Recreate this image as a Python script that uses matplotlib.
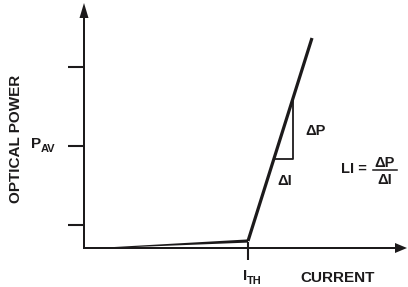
import numpy as np
import matplotlib.pyplot as plt

plt.rcParams['font.family'] = ['Liberation Sans', 'DejaVu Sans']
plt.rcParams['font.weight'] = 'bold'

# L-I curve (x = current, y = optical power), drawing units
current = [18, 164, 228]
power = [0, 7, 210]
i_th = 164
tick_levels = [23, 102, 181]
p_av = 102
# slope triangle
dp_levels = [89, 148]
dp_x = 209

ink = '#1c1a1b'

fig = plt.figure(figsize=(4.08, 2.87), dpi=100)
ax = fig.add_axes([0, 0, 1, 1])
ax.set_xlim(-84, 324)
ax.set_ylim(-39, 248)
ax.axis('off')

# axes with arrow heads
ax.arrow(0, 0, 0, 245, width=2, head_width=9, head_length=15,
         length_includes_head=True, color=ink, lw=0)
ax.arrow(-1, 0, 324, 0, width=2, head_width=10, head_length=12,
         length_includes_head=True, color=ink, lw=0)

# y ticks
for t in tick_levels:
    ax.plot([-16, 0], [t, t], color=ink, lw=1.5, solid_capstyle='butt')
# threshold tick
ax.plot([i_th, i_th], [6, -12], color=ink, lw=1.5, solid_capstyle='butt')

# below-threshold part, tapered
x0, x1 = current[0], current[1]
y0, y1 = power[0], power[1]
ax.fill([x0, x1, x1, x0], [y0 - 0.3, y1 - 1.6, y1 + 1.6, y0 + 0.3],
        color=ink, lw=0)
# lasing part
ax.plot(current[1:], power[1:], color=ink, lw=2.3, solid_capstyle='butt')

# slope triangle
x_left = np.interp(dp_levels[0], power[1:], current[1:])
ax.plot([x_left, dp_x, dp_x], [dp_levels[0], dp_levels[0], dp_levels[1]],
        color=ink, lw=1.3)

fs = 11
ax.text(-68, 109, 'OPTICAL POWER', rotation=90, ha='center', va='center',
        fontsize=fs, color=ink)
ax.text(-43, 100, 'P', ha='right', va='baseline', fontsize=fs, color=ink)
ax.text(-43, 96, 'AV', ha='left', va='baseline', fontsize=8, color=ink)
ax.text(i_th - 1, -32, 'I', ha='right', va='baseline', fontsize=fs, color=ink)
ax.text(i_th - 1, -36, 'TH', ha='left', va='baseline', fontsize=8, color=ink)
ax.text(254, -34, 'CURRENT', ha='center', va='baseline', fontsize=fs, color=ink)

ax.text(221, 113, 'ΔP', ha='left', va='baseline', fontsize=10.5, color=ink)
ax.text(193, 63, 'ΔI', ha='left', va='baseline', fontsize=10.5, color=ink)

ax.text(283, 75, 'LI =', ha='right', va='baseline', fontsize=10.5, color=ink)
ax.text(301, 81, 'ΔP', ha='center', va='baseline', fontsize=10.5, color=ink)
ax.plot([289, 313], [78.5, 78.5], color=ink, lw=1.1)
ax.text(301, 64, 'ΔI', ha='center', va='baseline', fontsize=10.5, color=ink)

fig.savefig('out.png', dpi=100)
